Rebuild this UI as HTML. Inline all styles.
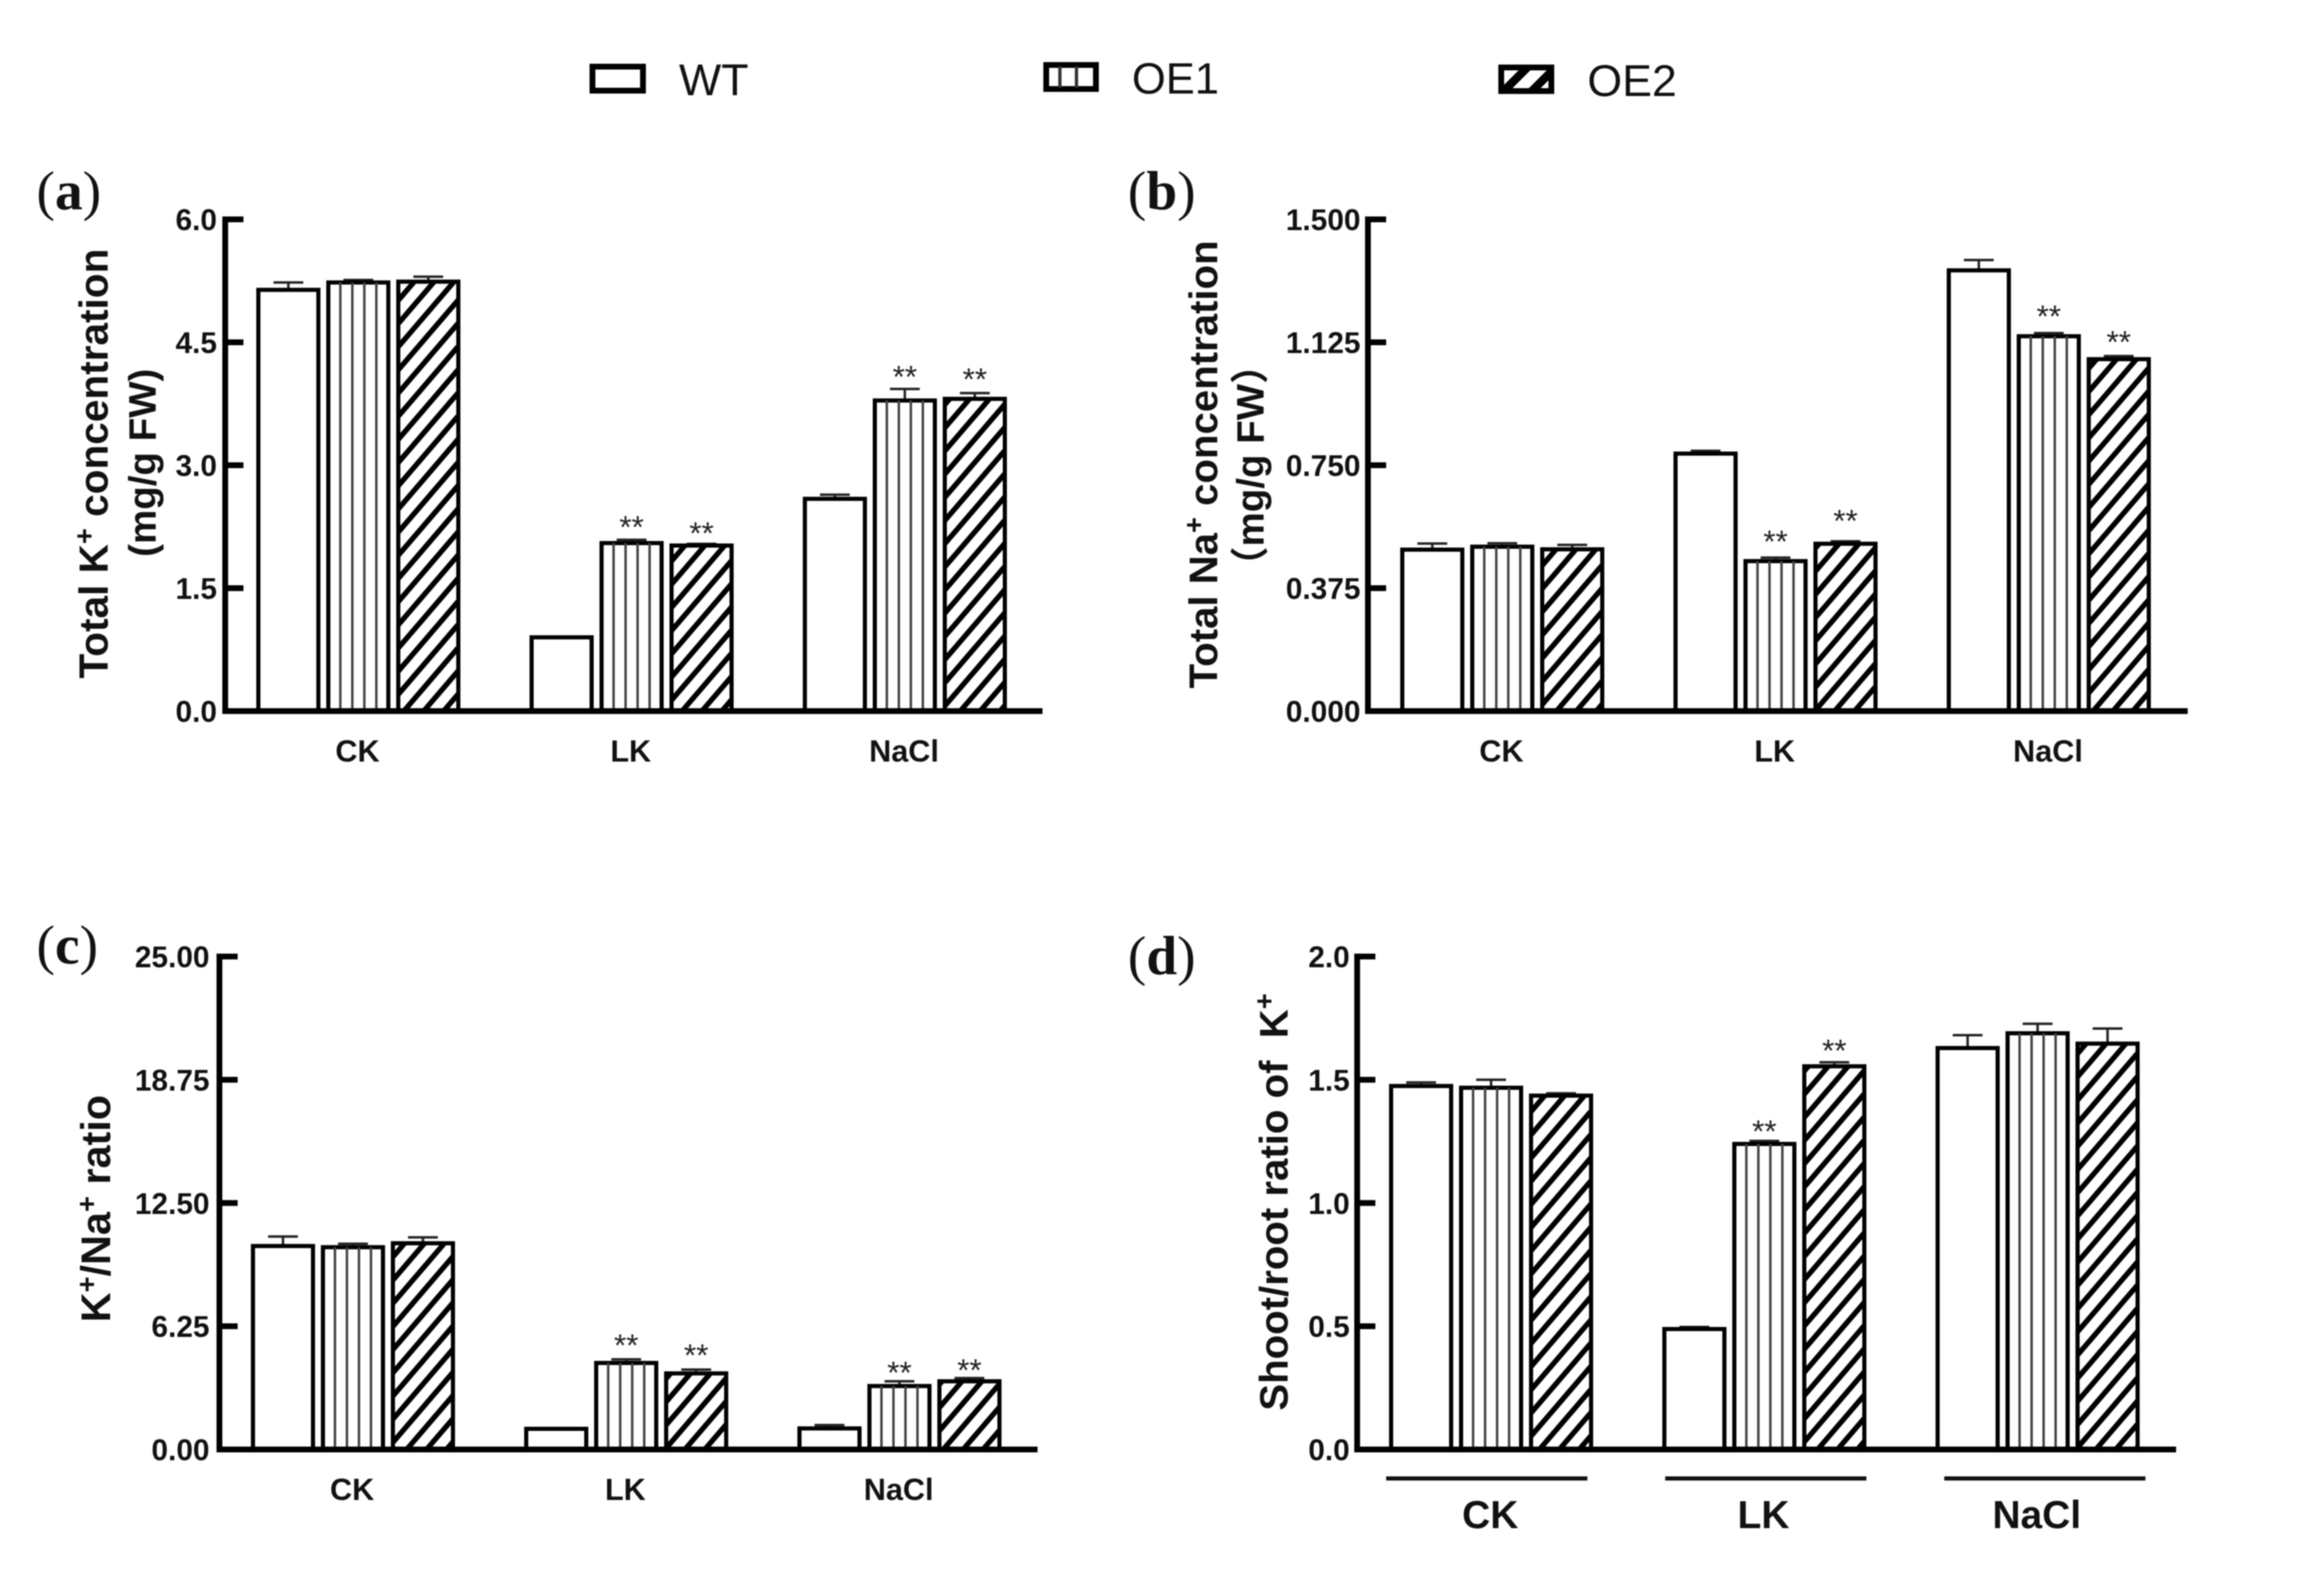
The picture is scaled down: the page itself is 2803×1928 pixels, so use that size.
<!DOCTYPE html>
<html lang="en">
<head>
<meta charset="utf-8">
<title>K+ and Na+ concentration in WT, OE1 and OE2 plants</title>
<style>
html,body{margin:0;padding:0;background:#fff;}
#figure{display:block;width:2803px;height:1928px;filter:blur(0.9px);}
text{font-family:"Liberation Sans","Noto Sans CJK SC",sans-serif;fill:#111;}
.panel-letter{font-family:"Liberation Serif","Noto Serif CJK SC",serif;font-size:67px;}
.panel-letter .bold{font-weight:bold;}
.legend-label{font-size:54px;}
.tick-label{font-size:36px;font-weight:bold;text-anchor:end;}
.cat-label{font-size:37px;font-weight:bold;text-anchor:middle;}
.cat-label-large{font-size:47px;font-weight:bold;text-anchor:middle;}
.axis-title{font-size:49px;font-weight:bold;text-anchor:middle;}
.stars{font-size:38px;text-anchor:middle;fill:#222;}
</style>
</head>
<body>
<svg id="figure" xmlns="http://www.w3.org/2000/svg" width="2803" height="1928" viewBox="0 0 2803 1928">
  <defs>
    <pattern id="hatch" patternUnits="userSpaceOnUse" width="24" height="28">
      <path d="M-6 7 L6 -7 M0 28 L24 0 M18 35 L30 21" stroke="#000" stroke-width="6.4" fill="none"/>
    </pattern>
    <pattern id="hatch-legend" patternUnits="userSpaceOnUse" width="34" height="34" x="1812" y="80">
      <path d="M-8 8 L8 -8 M0 34 L34 0 M26 42 L42 26" stroke="#000" stroke-width="10" fill="none"/>
    </pattern>
  </defs>
  <rect width="2803" height="1928" fill="#fff"/>

  <g>
    <g>
      <rect x="715.5" y="80.5" width="61" height="29" fill="#fff" stroke="#000" stroke-width="7"/>
      <text class="legend-label" x="820" y="115">WT</text>
    </g>
    <g>
      <rect x="1263.5" y="78.5" width="60" height="29" fill="#fff" stroke="#000" stroke-width="7"/>
      <path d="M1280 80 V106 M1300 80 V106" stroke="#333" stroke-width="4" fill="none"/>
      <text class="legend-label" x="1367" y="113" style="font-size:52.5px">OE1</text>
    </g>
    <g>
      <rect x="1813" y="81.5" width="60.5" height="28.5" fill="url(#hatch-legend)" stroke="#000" stroke-width="7"/>
      <text class="legend-label" x="1917" y="116">OE2</text>
    </g>
  </g>

  <text class="panel-letter" x="44" y="253">(<tspan class="bold">a</tspan>)</text>
  <text class="panel-letter" x="1362" y="253">(<tspan class="bold">b</tspan>)</text>
  <text class="panel-letter" x="44" y="1164">(<tspan class="bold">c</tspan>)</text>
  <text class="panel-letter" x="1362" y="1177">(<tspan class="bold">d</tspan>)</text>

  <g>
    <text class="axis-title" transform="translate(130 560) rotate(-90)">Total K<tspan font-size="33" dy="-17">+</tspan><tspan dy="17"> concentration</tspan></text>
    <text class="axis-title" transform="translate(188 559) rotate(-90)" style="font-size:46.5px">(mg/g FW)</text>
  </g>
  <g>
    <text class="axis-title" transform="translate(1470 561) rotate(-90)" style="font-size:48.5px">Total Na<tspan font-size="33" dy="-17">+</tspan><tspan dy="17"> concentration</tspan></text>
    <text class="axis-title" transform="translate(1526 562) rotate(-90)" style="font-size:46.5px">（mg/g FW）</text>
  </g>
  <text class="axis-title" transform="translate(133 1460) rotate(-90)" style="font-size:50px">K<tspan font-size="33" dy="-17">+</tspan><tspan dy="17">/Na</tspan><tspan font-size="33" dy="-17">+</tspan><tspan dy="17" xml:space="preserve"> ratio</tspan></text>
  <text class="axis-title" transform="translate(1555 1452) rotate(-90)" style="font-size:48.5px" xml:space="preserve">Shoot/root ratio of  K<tspan font-size="33" dy="-17">+</tspan></text>

  <g id="plots"></g>
</svg>

<script>
var categories = ['CK', 'LK', 'NaCl'];
var seriesNames = ['wt', 'oe1', 'oe2'];

var ticksA = ['0.0', '1.5', '3.0', '4.5', '6.0'];
var wtA = [5.15, 0.91, 2.60];
var oe1A = [5.24, 2.06, 3.80];
var oe2A = [5.25, 2.03, 3.82];
var wtErrA = [0.08, 0, 0.04];
var oe1ErrA = [0.02, 0.03, 0.13];
var oe2ErrA = [0.05, 0.01, 0.06];
var wtStarsA = [null, null, null];
var oe1StarsA = [null, 2.29, 4.12];
var oe2StarsA = [null, 2.21, 4.09];

var ticksB = ['0.000', '0.375', '0.750', '1.125', '1.500'];
var wtB = [0.495, 0.788, 1.347];
var oe1B = [0.504, 0.460, 1.146];
var oe2B = [0.496, 0.513, 1.076];
var wtErrB = [0.016, 0.006, 0.029];
var oe1ErrB = [0.008, 0.008, 0.007];
var oe2ErrB = [0.011, 0.005, 0.007];
var wtStarsB = [null, null, null];
var oe1StarsB = [null, 0.528, 1.215];
var oe2StarsB = [null, 0.591, 1.136];

var ticksC = ['0.00', '6.25', '12.50', '18.75', '25.00'];
var wtC = [10.36, 1.09, 1.11];
var oe1C = [10.30, 4.43, 3.26];
var oe2C = [10.50, 3.90, 3.50];
var wtErrC = [0.44, 0, 0.13];
var oe1ErrC = [0.13, 0.14, 0.20];
var oe2ErrC = [0.26, 0.15, 0.12];
var wtStarsC = [null, null, null];
var oe1StarsC = [null, 5.46, 4.08];
var oe2StarsC = [null, 4.96, 4.20];

var ticksD = ['0.0', '0.5', '1.0', '1.5', '2.0'];
var wtD = [1.478, 0.492, 1.632];
var oe1D = [1.471, 1.243, 1.692];
var oe2D = [1.439, 1.558, 1.650];
var wtErrD = [0.011, 0.005, 0.049];
var oe1ErrD = [0.029, 0.009, 0.035];
var oe2ErrD = [0.006, 0.013, 0.058];
var wtStarsD = [null, null, null];
var oe1StarsD = [null, 1.304, null];
var oe2StarsD = [null, 1.632, null];

var SVG_NS = 'http://www.w3.org/2000/svg';
var BAR_W = 72.5, BAR_STEP = 84.5, GROUP_STEP = 330, STRIPE_CELLS = 5;
var GROUP_LINE_START = 1674, GROUP_LINE_STEP = 337, GROUP_LINE_W = 243;

function mk(parent, tag, props, text) {
  var el = document.createElementNS(SVG_NS, tag);
  for (var k in props) { el.setAttribute(k, props[k]); }
  if (text !== undefined) { el.textContent = text; }
  parent.appendChild(el);
  return el;
}

function drawPanel(cfg) {
  var root = document.getElementById('plots');
  var g = mk(root, 'g', {});
  
  

  var yMax = parseFloat(cfg.ticks[cfg.ticks.length - 1]);
  function y(v) { return cfg.base - (v / yMax) * (cfg.base - cfg.top); }
  function barX(c, s) { return cfg.firstBar + c * GROUP_STEP + s * BAR_STEP; }
  function catX(c) { return barX(c, 1) + BAR_W / 2 - 1; }

  var seriesVals = [cfg.wt, cfg.oe1, cfg.oe2];
  var seriesErr = [cfg.wtErr, cfg.oe1Err, cfg.oe2Err];
  var seriesStars = [cfg.wtStars, cfg.oe1Stars, cfg.oe2Stars];

  seriesNames.forEach(function (name, s) {
    categories.forEach(function (cat, c) {
      var val = seriesVals[s][c], err = seriesErr[s][c], star = seriesStars[s][c];
      var x = barX(c, s), yTop = y(val) + 1, h = cfg.base - yTop, cx = x + BAR_W / 2;

      if (err > 0) {
        var ye = y(val + err);
        var errG = mk(g, 'path', {
          d: 'M' + cx + ' ' + yTop + ' V' + ye + ' M' + (cx - 18) + ' ' + ye + ' H' + (cx + 18),
          stroke: '#222', 'stroke-width': 3, fill: 'none'
        });
        
        
      }

      var bar = mk(g, 'rect', {
        x: x, y: yTop, width: BAR_W, height: h,
        fill: s === 2 ? 'url(#hatch)' : '#fff',
        stroke: '#000', 'stroke-width': 5
      });
      if (s === 2) {
        var under = document.createElementNS(SVG_NS, 'rect');
        under.setAttribute('x', x);
        under.setAttribute('y', yTop);
        under.setAttribute('width', BAR_W);
        under.setAttribute('height', h);
        under.setAttribute('fill', '#fff');
        
        
        g.insertBefore(under, bar);
      }
      
      

      if (s === 1) {
        for (var i = 1; i < STRIPE_CELLS; i++) {
          var sx = x + i * BAR_W / STRIPE_CELLS;
          var stripe = mk(g, 'line', {
            x1: sx, x2: sx, y1: yTop, y2: cfg.base,
            stroke: '#444', 'stroke-width': 3
          });
          
          
        }
      }

      if (star !== null) {
        var st = mk(g, 'text', { 'class': 'stars', x: cx, y: y(star) + 17 }, '**');
        
        
      }
    });
  });

  var yAxis = mk(g, 'line', { x1: cfg.axisX, x2: cfg.axisX, y1: cfg.top - 3.5, y2: cfg.base + 3.5, stroke: '#000', 'stroke-width': 7 });
  
  

  var xAxis = mk(g, 'line', { x1: cfg.axisX - 3.5, x2: cfg.axisEnd, y1: cfg.base, y2: cfg.base, stroke: '#000', 'stroke-width': 7 });
  
  

  cfg.ticks.forEach(function (label) {
    var ty = y(parseFloat(label));
    var tick = mk(g, 'line', { x1: cfg.axisX, x2: cfg.axisX + 22, y1: ty, y2: ty, stroke: '#000', 'stroke-width': 7 });
    
    
    var tl = mk(g, 'text', { 'class': 'tick-label', x: cfg.axisX - cfg.labelGap, y: ty + 13 }, label);
    
    
  });

  categories.forEach(function (cat, c) {
    var cx = catX(c);
    if (cfg.groupLines) {
      var lx = GROUP_LINE_START + c * GROUP_LINE_STEP;
      var gl = mk(g, 'line', { x1: lx, x2: lx + GROUP_LINE_W, y1: 1786, y2: 1786, stroke: '#111', 'stroke-width': 5 });
      
      
    }
    var cl = mk(g, 'text', {
      'class': cfg.groupLines ? 'cat-label-large' : 'cat-label',
      x: cx, y: cfg.catY
    }, cat);
    
    
  });
}

drawPanel({ id: 'a', ticks: ticksA, top: 265, base: 859, axisX: 272, axisEnd: 1259, firstBar: 312, labelGap: 10, catY: 920,
  wt: wtA, oe1: oe1A, oe2: oe2A, wtErr: wtErrA, oe1Err: oe1ErrA, oe2Err: oe2ErrA,
  wtStars: wtStarsA, oe1Stars: oe1StarsA, oe2Stars: oe2StarsA });
drawPanel({ id: 'b', ticks: ticksB, top: 265, base: 859, axisX: 1652, axisEnd: 2642, firstBar: 1693.5, labelGap: 9, catY: 920,
  wt: wtB, oe1: oe1B, oe2: oe2B, wtErr: wtErrB, oe1Err: oe1ErrB, oe2Err: oe2ErrB,
  wtStars: wtStarsB, oe1Stars: oe1StarsB, oe2Stars: oe2StarsB });
drawPanel({ id: 'c', ticks: ticksC, top: 1155.5, base: 1751, axisX: 265, axisEnd: 1253, firstBar: 305.5, labelGap: 12, catY: 1812,
  wt: wtC, oe1: oe1C, oe2: oe2C, wtErr: wtErrC, oe1Err: oe1ErrC, oe2Err: oe2ErrC,
  wtStars: wtStarsC, oe1Stars: oe1StarsC, oe2Stars: oe2StarsC });
drawPanel({ id: 'd', ticks: ticksD, top: 1155.5, base: 1751, axisX: 1639, axisEnd: 2628, firstBar: 1680, labelGap: 9, catY: 1846, groupLines: true,
  wt: wtD, oe1: oe1D, oe2: oe2D, wtErr: wtErrD, oe1Err: oe1ErrD, oe2Err: oe2ErrD,
  wtStars: wtStarsD, oe1Stars: oe1StarsD, oe2Stars: oe2StarsD });
</script>
</body>
</html>
